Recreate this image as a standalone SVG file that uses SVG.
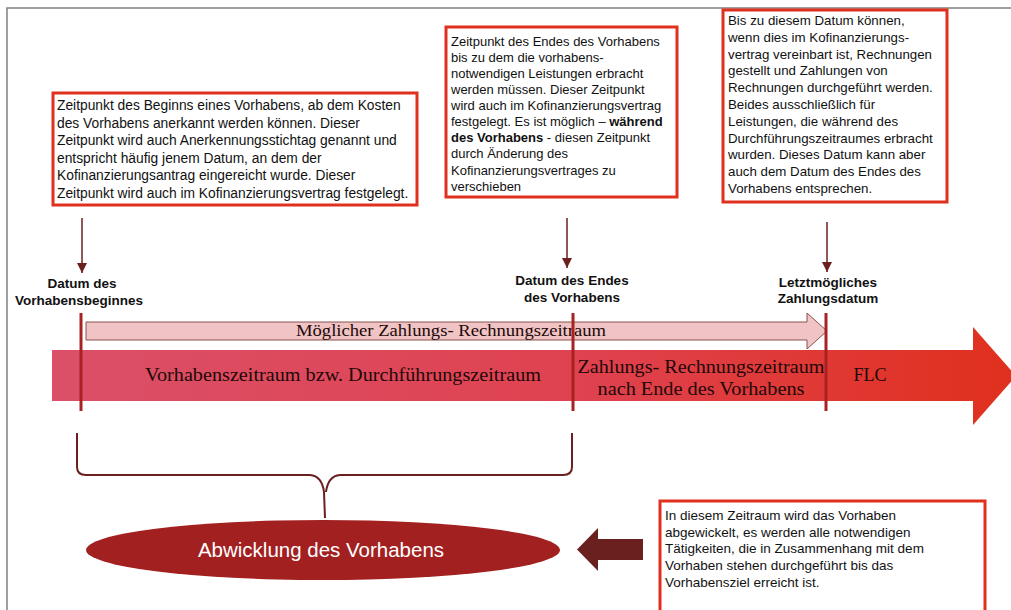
<svg xmlns="http://www.w3.org/2000/svg" width="1011" height="610" viewBox="0 0 1011 610">
<style>
.note{fill:#fff;stroke:#e0301e;stroke-width:3}
.nt{font-family:"Liberation Sans",Arial,sans-serif;font-size:13px;fill:#111}
.n1{font-size:13.8px}
.n3{font-size:13.3px}
.n4{font-size:13.5px}
.b{font-weight:bold}
.lbl{font-family:"Liberation Sans",Arial,sans-serif;font-size:13.5px;font-weight:bold;fill:#111;text-anchor:middle}
.ser{font-family:"Liberation Serif","Times New Roman",serif;fill:#220808;text-anchor:middle}
.down{stroke:#6b1f1f;stroke-width:1.5;fill:none;marker-end:url(#ah)}
.vline{stroke:#a82222;stroke-width:3}
</style>
<defs>
<marker id="ah" markerWidth="10" markerHeight="10" refX="10" refY="5" orient="auto" markerUnits="userSpaceOnUse" viewBox="0 0 10 10">
<path d="M0,0 L10,5 L0,10 Z" fill="#6b1f1f"/>
</marker>
<linearGradient id="g1" x1="52" y1="0" x2="1011" y2="0" gradientUnits="userSpaceOnUse">
<stop offset="0" stop-color="#db5068"/>
<stop offset="0.55" stop-color="#df4250"/>
<stop offset="1" stop-color="#e0301e"/>
</linearGradient>
</defs>
<rect x="0" y="0" width="1011" height="610" fill="#fff"/>
<path d="M7,610 L7,8 L1011,8" fill="none" stroke="#808080" stroke-width="1.5"/>

<g id="mainarrow">
<path d="M52,350 L973,350 L973,327 L1016,376 L973,425 L973,401 L52,401 Z" fill="url(#g1)"/>
<text class="ser" x="343" y="381" font-size="18" textLength="396" lengthAdjust="spacingAndGlyphs">Vorhabenszeitraum bzw. Durchführungszeitraum</text>
<text class="ser" x="701" y="373" font-size="18" textLength="247" lengthAdjust="spacingAndGlyphs">Zahlungs- Rechnungszeitraum</text>
<text class="ser" x="701" y="395" font-size="18" textLength="207" lengthAdjust="spacingAndGlyphs">nach Ende des Vorhabens</text>
<text class="ser" x="870" y="381" font-size="18">FLC</text>
</g>

<g id="paymentarrow">
<path d="M86,322 L807,322 L807,313 L827,331 L807,349 L807,340 L86,340 Z" fill="#f0c4c4" stroke="#8a5050" stroke-width="1"/>
<text class="ser" x="451" y="336" font-size="16" textLength="310" lengthAdjust="spacingAndGlyphs">Möglicher Zahlungs- Rechnungszeitraum</text>
</g>

<g id="markers">
<line class="vline" x1="81" y1="313" x2="81" y2="411"/>
<line class="vline" x1="573" y1="313" x2="573" y2="411"/>
<line class="vline" x1="826" y1="313" x2="826" y2="411"/>
</g>

<g id="box1">
<rect class="note" x="53" y="93" width="364" height="112"/>
<text class="nt n1" x="57" y="110">Zeitpunkt des Beginns eines Vorhabens, ab dem Kosten</text>
<text class="nt n1" x="57" y="127.5">des Vorhabens anerkannt  werden können. Dieser</text>
<text class="nt n1" x="57" y="145">Zeitpunkt wird auch Anerkennungsstichtag genannt und</text>
<text class="nt n1" x="57" y="162.5">entspricht häufig jenem Datum, an dem der</text>
<text class="nt n1" x="57" y="180">Kofinanzierungsantrag eingereicht wurde. Dieser</text>
<text class="nt n1" x="57" y="197.5">Zeitpunkt wird auch im Kofinanzierungsvertrag festgelegt.</text>
</g>

<g id="box2">
<rect class="note" x="446" y="27" width="231" height="170"/>
<text class="nt" x="451" y="46">Zeitpunkt des Endes des Vorhabens</text>
<text class="nt" x="451" y="62">bis zu dem die vorhabens-</text>
<text class="nt" x="451" y="78">notwendigen Leistungen erbracht</text>
<text class="nt" x="451" y="94">werden müssen. Dieser Zeitpunkt</text>
<text class="nt" x="451" y="110">wird auch im Kofinanzierungsvertrag</text>
<text class="nt" x="451" y="126">festgelegt. Es ist möglich – <tspan class="b">während</tspan></text>
<text class="nt" x="451" y="142"><tspan class="b">des Vorhabens</tspan> - diesen Zeitpunkt</text>
<text class="nt" x="451" y="158">durch Änderung des</text>
<text class="nt" x="451" y="175">Kofinanzierungsvertrages zu</text>
<text class="nt" x="451" y="191">verschieben</text>
</g>

<g id="box3">
<rect class="note" x="723" y="10" width="224" height="192"/>
<text class="nt n3" x="728" y="25">Bis zu diesem Datum können,</text>
<text class="nt n3" x="728" y="41.8">wenn dies im Kofinanzierungs-</text>
<text class="nt n3" x="728" y="58.6">vertrag vereinbart ist, Rechnungen</text>
<text class="nt n3" x="728" y="75.4">gestellt und Zahlungen von</text>
<text class="nt n3" x="728" y="92.2">Rechnungen durchgeführt werden.</text>
<text class="nt n3" x="728" y="109">Beides ausschließlich für</text>
<text class="nt n3" x="728" y="125.8">Leistungen, die während des</text>
<text class="nt n3" x="728" y="142.6">Durchführungszeitraumes erbracht</text>
<text class="nt n3" x="728" y="159.4">wurden. Dieses Datum kann aber</text>
<text class="nt n3" x="728" y="176.2">auch dem Datum des Endes des</text>
<text class="nt n3" x="728" y="193">Vorhabens entsprechen.</text>
</g>

<g id="label1">
<text class="lbl" x="82" y="288">Datum des</text>
<text class="lbl" x="79" y="305">Vorhabensbeginnes</text>
</g>
<g id="label2">
<text class="lbl" x="572" y="285">Datum des Endes</text>
<text class="lbl" x="572" y="302">des Vorhabens</text>
</g>
<g id="label3">
<text class="lbl" x="828" y="287">Letztmögliches</text>
<text class="lbl" x="828" y="303">Zahlungsdatum</text>
</g>

<g id="ellipse">
<ellipse cx="323" cy="550" rx="237" ry="30" fill="#a32020"/>
<text x="321" y="557" font-family="'Liberation Sans',Arial,sans-serif" font-size="20.5" fill="#fff" text-anchor="middle">Abwicklung des Vorhabens</text>
</g>

<g id="box4">
<rect class="note" x="660" y="501" width="325" height="120"/>
<text class="nt n4" x="665" y="520">In diesem Zeitraum wird das Vorhaben</text>
<text class="nt n4" x="665" y="536.7">abgewickelt, es werden alle notwendigen</text>
<text class="nt n4" x="665" y="553.4">Tätigkeiten, die in Zusammenhang mit dem</text>
<text class="nt n4" x="665" y="570">Vorhaben stehen durchgeführt bis das</text>
<text class="nt n4" x="665" y="587">Vorhabensziel erreicht ist.</text>
</g>

<g id="connectors">
<line class="down" x1="82" y1="218" x2="82" y2="273"/>
<line class="down" x1="567" y1="218" x2="567" y2="268"/>
<line class="down" x1="827" y1="222" x2="827" y2="272"/>
<path d="M77,433 L77,467 Q77,475 86,475 L310,475 Q322,476 324,492 L325,518 M572,433 L572,467 Q572,475 563,475 L340,475 Q328,476 326,492" fill="none" stroke="#6b1f1f" stroke-width="2"/>
<path d="M643,539 L598,539 L598,528 L577,549.5 L598,571 L598,560 L643,560 Z" fill="#6b2020"/>
</g>
</svg>
